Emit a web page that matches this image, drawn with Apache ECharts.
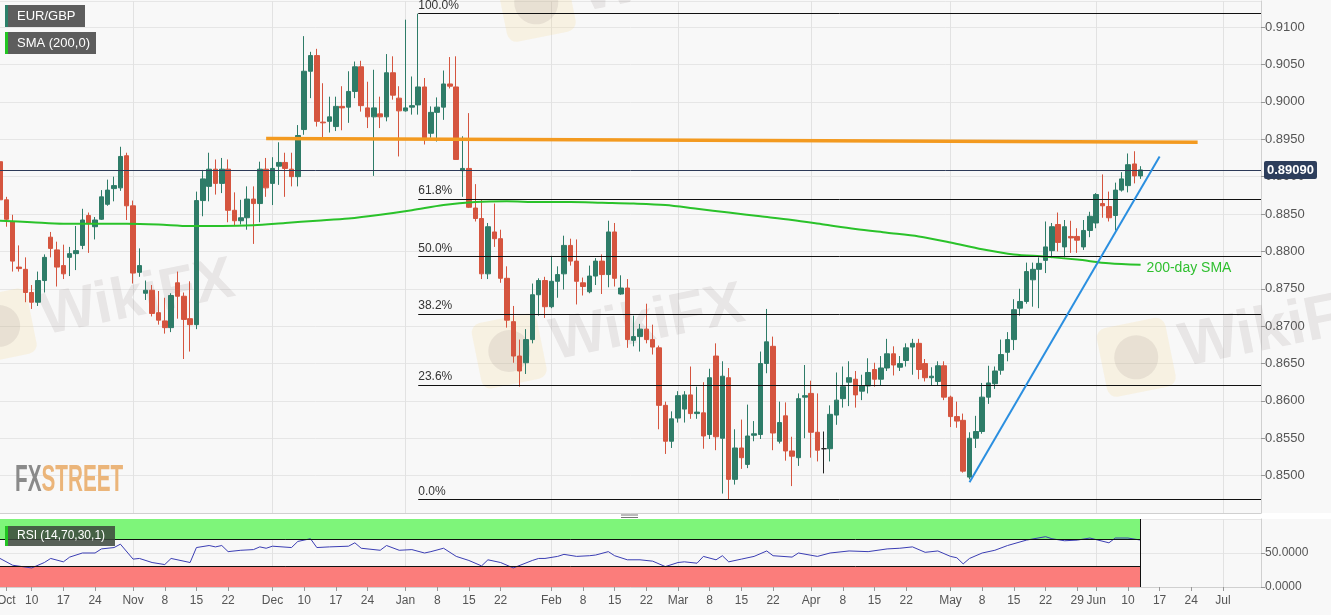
<!DOCTYPE html>
<html>
<head>
<meta charset="utf-8">
<title>EUR/GBP daily</title>
<script src="https://cdn.jsdelivr.net/npm/echarts@6.0.0/dist/echarts.min.js"></script>
<style>
  html, body { margin: 0; padding: 0; background: #f8f8f8; }
  #chart { width: 1331px; height: 615px; }
</style>
</head>
<body>
<div id="chart"></div>
<script>
// daily candles, first one is 3 Oct 2018
const open = [
  .8920,.8869,.8840,.8779,.8776,.8745,.8732,.8761,.8819,.8802,
  .8781,.8792,.8797,.8808,.8848,.8833,.8843,.8863,.8884,.8885,
  .8928,.8861,.8772,.8744,.8748,.8718,.8707,.8698,.8758,.8740,
  .8710,.8702,.8868,.8887,.8910,.8891,.8910,.8855,.8841,.8845,
  .8870,.8864,.8910,.8891,.8914,.8919,.8910,.8900,.8963,.9041,
  .9062,.8973,.8974,.8967,.8994,.8993,.9014,.9047,.8992,.8980,
  .8984,.8980,.9039,.9005,.8988,.8993,.8996,.9020,.8958,.8986,
  .8993,.9024,.9020,.8908,.8911,.8858,.8844,.8770,.8826,.8817,
  .8764,.8706,.8660,.8651,.8682,.8742,.8761,.8726,.8760,.8770,
  .8808,.8787,.8758,.8746,.8767,.8787,.8769,.8826,.8743,.8751,
  .8681,.8686,.8696,.8682,.8671,.8594,.8546,.8577,.8589,.8608,
  .8583,.8584,.8555,.8660,.8550,.8631,.8495,.8537,.8515,.8554,
  .8555,.8650,.8673,.8546,.8580,.8533,.8524,.8605,.8610,.8558,
  .8536,.8536,.8581,.8603,.8625,.8629,.8613,.8620,.8642,.8629,
  .8644,.8663,.8645,.8654,.8672,.8677,.8650,.8631,.8626,.8647,
  .8605,.8579,.8574,.8498,.8550,.8559,.8605,.8623,.8641,.8665,
  .8682,.8724,.8733,.8762,.8776,.8788,.8801,.8836,.8806,.8820,
  .8820,.8806,.8828,.8838,.8864,.8860,.8848,.8882,.8888,.8917,
  .8901
]
const close = [
  .8869,.8843,.8787,.8777,.8745,.8732,.8761,.8792,.8804,.8779,
  .8770,.8797,.8801,.8842,.8837,.8842,.8873,.8882,.8888,.8927,
  .8861,.8771,.8781,.8748,.8717,.8708,.8698,.8741,.8740,.8709,
  .8702,.8868,.8897,.8910,.8891,.8910,.8855,.8841,.8845,.8870,
  .8864,.8910,.8885,.8911,.8919,.8911,.8900,.8955,.9041,.9062,
  .8974,.8972,.8980,.8994,.8992,.9014,.9047,.8995,.8980,.8992,
  .8980,.9039,.9009,.8988,.8992,.8995,.9020,.8952,.8986,.8993,
  .9024,.9021,.8923,.8911,.8859,.8844,.8770,.8833,.8817,.8764,
  .8708,.8660,.8640,.8682,.8742,.8761,.8726,.8760,.8769,.8808,
  .8787,.8760,.8753,.8767,.8787,.8769,.8826,.8764,.8751,.8682,
  .8686,.8696,.8682,.8672,.8594,.8546,.8576,.8607,.8608,.8583,
  .8585,.8553,.8631,.8552,.8633,.8495,.8537,.8524,.8553,.8556,
  .8650,.8679,.8557,.8571,.8533,.8526,.8603,.8607,.8558,.8534,
  .8536,.8582,.8601,.8619,.8631,.8608,.8620,.8638,.8629,.8644,
  .8663,.8648,.8650,.8671,.8677,.8642,.8631,.8633,.8647,.8605,
  .8579,.8573,.8506,.8550,.8559,.8605,.8624,.8640,.8662,.8682,
  .8722,.8733,.8773,.8776,.8784,.8806,.8833,.8812,.8833,.8818,
  .8815,.8828,.8847,.8876,.8861,.8845,.8882,.8897,.8916,.8901,
  .8909
]
const low = [
  .8862,.8833,.8773,.8773,.8732,.8723,.8727,.8745,.8792,.8753,
  .8763,.8767,.8775,.8803,.8798,.8816,.8842,.8861,.8867,.8881,
  .8842,.8757,.8766,.8735,.8713,.8702,.8690,.8692,.8710,.8656,
  .8666,.8696,.8847,.8867,.8876,.8878,.8839,.8834,.8836,.8829,
  .8810,.8839,.8873,.8862,.8889,.8873,.8887,.8887,.8956,.9005,
  .8967,.8953,.8959,.8961,.8962,.8972,.9005,.8987,.8965,.8901,
  .8965,.8974,.9003,.8927,.8987,.8983,.8983,.8943,.8952,.8947,
  .8976,.9018,.8923,.8873,.8858,.8840,.8763,.8763,.8806,.8758,
  .8698,.8651,.8619,.8636,.8677,.8714,.8711,.8724,.8738,.8749,
  .8781,.8729,.8741,.8744,.8755,.8743,.8752,.8753,.8742,.8671,
  .8673,.8666,.8677,.8662,.8562,.8529,.8537,.8571,.8571,.8576,
  .8576,.8536,.8549,.8534,.8476,.8468,.8488,.8509,.8510,.8546,
  .8549,.8637,.8534,.8543,.8520,.8486,.8513,.8550,.8524,.8519,
  .8503,.8519,.8568,.8591,.8593,.8591,.8601,.8610,.8619,.8620,
  .8640,.8634,.8640,.8646,.8635,.8629,.8626,.8620,.8620,.8601,
  .8565,.8564,.8504,.8495,.8537,.8556,.8596,.8616,.8635,.8653,
  .8668,.8714,.8730,.8726,.8724,.8771,.8791,.8800,.8792,.8798,
  .8798,.8802,.8819,.8831,.8845,.8840,.8828,.8880,.8879,.8891,
  .8897
]
const high = [
  .8933,.8873,.8849,.8808,.8792,.8755,.8773,.8796,.8826,.8813,
  .8809,.8806,.8834,.8857,.8852,.8846,.8882,.8896,.8900,.8940,
  .8932,.8868,.8804,.8761,.8755,.8747,.8738,.8744,.8773,.8745,
  .8760,.8880,.8909,.8932,.8923,.8925,.8923,.8879,.8869,.8887,
  .8887,.8920,.8925,.8926,.8946,.8932,.8932,.8969,.9088,.9067,
  .9071,.9025,.9007,.9007,.9021,.9041,.9054,.9055,.9027,.9043,
  .9007,.9064,.9061,.9021,.9110,.9034,.9118,.9032,.8994,.9006,
  .9042,.9060,.9061,.8954,.8985,.8890,.8869,.8838,.8864,.8829,
  .8780,.8727,.8682,.8696,.8757,.8764,.8766,.8794,.8780,.8821,
  .8817,.8816,.8765,.8781,.8791,.8796,.8841,.8838,.8768,.8763,
  .8714,.8703,.8730,.8702,.8674,.8599,.8586,.8613,.8613,.8646,
  .8619,.8625,.8643,.8677,.8653,.8644,.8562,.8575,.8595,.8573,
  .8666,.8723,.8686,.8599,.8598,.8552,.8610,.8648,.8627,.8610,
  .8559,.8594,.8638,.8646,.8653,.8640,.8635,.8657,.8651,.8660,
  .8683,.8673,.8660,.8677,.8683,.8683,.8656,.8645,.8653,.8653,
  .8607,.8599,.8583,.8558,.8580,.8624,.8647,.8646,.8682,.8692,
  .8736,.8750,.8785,.8785,.8792,.8840,.8838,.8852,.8842,.8841,
  .8831,.8842,.8853,.8878,.8903,.8880,.8892,.8906,.8931,.8934,
  .8914
]

// 200-day SMA, read every 5th session
const smaDay = [0,5,10,15,20,25,30,35,40,45,50,55,60,65,70,75,80,85,90,95,
  100,105,110,115,120,125,130,135,140,145,150,155,160,165,170,175,180]
const smaValue = [.8841,.8839,.8837,.8837,.8837,.8836,.8834,.8834,.8835,.8838,
  .8841,.8844,.8849,.8855,.8862,.8866,.8867,.8866,.8866,.8865,
  .8864,.8862,.8857,.8852,.8847,.8842,.8836,.8830,.8825,.8820,
  .8812,.8803,.8796,.8793,.8789,.8784,.8782]

// RSI(14)
const rsiDay = [0,2,5,7,8,10,11,13,15,16,18,19,21,22,24,26,27,30,31,33,34,35,36,38,40,41,42,43,46,47,
  49,50,52,55,56,57,60,61,63,65,67,68,70,72,74,76,77,79,81,84,85,86,88,89,91,93,94,96,97,99,
  101,103,105,107,108,110,111,113,114,115,117,119,121,122,125,126,129,131,134,137,140,142,144,146,148,150,151,152,153,155,
  157,159,162,165,166,168,170,172,175,176,178,180]
const rsiValue = [42,32,28,36,42,37,44,50,50,56,58,63,41,42,36,33,42,36,58,61,59,61,52,54,55,59,57,60,58,67,
  71,58,59,60,65,57,54,61,54,55,50,52,57,45,39,31,40,36,28,39,42,42,45,48,45,46,47,52,46,40,
  40,38,30,36,37,35,45,40,46,37,41,45,53,46,44,50,45,50,53,52,56,57,59,51,53,45,43,34,42,50,
  54,61,69,74,71,68,69,72,65,72,72,69]

// fibonacci retracement of the Jan high / Mar low
const fibText = ['100.0%', '61.8%', '50.0%', '38.2%', '23.6%', '0.0%']
const fibPrice = [.9118, .8870, .8793, .8716, .8621, .8468]
const lastPrice = 0.8909
const resistance = [[42, .8951], [189, .8946]]
const trendLine = [[153, .8491], [183, .8927]]

// x axis labels (session index -> text)
const tickDay = [1,5,10,15, 21,26,31,36, 43,48,53,58, 64,69,74,79, 87,92,97,102,
  107,112,117,122, 128,133,138,143, 150,155,160,165,170, 173,178,183,188, 193]
const tickText = ['Oct','10','17','24', 'Nov','8','15','22', 'Dec','10','17','24', 'Jan','8','15','22',
  'Feb','8','15','22', 'Mar','8','15','22', 'Apr','8','15','22', 'May','8','15','22','29',
  'Jun','10','17','24', 'Jul']
const monthStart = [21, 43, 64, 87, 107, 128, 150, 173, 193]

// weekday sessions, 200 slots so the axis runs past the last candle
const days = []
const d = new Date(2018, 9, 3)
while (days.length < 200) {
  const w = d.getDay()
  if (w > 0 && w < 6) days.push(d.getFullYear() + '-' + (d.getMonth() + 1) + '-' + d.getDate())
  d.setDate(d.getDate() + 1)
}

const tickMap = {}
tickDay.forEach((t, i) => { tickMap[t] = tickText[i] })

const candles = open.map((o, i) => [o, close[i], low[i], high[i]])

const UP = '#2e7c68'
const DOWN = '#d5553f'
const FONT = '"Liberation Sans", Arial, sans-serif'
const LAST = days.length - 1

function wikiMark(x, y, s) {
  return {
    type: 'group', x: x, y: y, rotation: 0.2, silent: true,
    children: [
      { type: 'rect', z: 1, shape: { x: 0, y: 0, width: 70 * s, height: 70 * s, r: 10 * s },
        style: { fill: 'rgba(245,215,140,0.2)' } },
      { type: 'circle', z: 1, shape: { cx: 35 * s, cy: 35 * s, r: 22 * s },
        style: { fill: 'rgba(120,110,110,0.12)' } },
      { type: 'text', z: 1, x: 80 * s, y: 5 * s,
        style: { text: 'WikiFX', font: 'bold ' + Math.round(62 * s) + 'px ' + FONT, fill: 'rgba(120,110,110,0.13)' } }
    ]
  }
}

function tag(x, y, w, h, accent, text, size, fill) {
  return {
    type: 'group', x: x, y: y, children: [
      { type: 'rect', z: 100, shape: { x: 0, y: 0, width: w, height: h }, style: { fill: fill } },
      { type: 'rect', z: 101, shape: { x: 0, y: 0, width: 3, height: h }, style: { fill: accent } },
      { type: 'text', z: 102, x: 12, y: h / 2,
        style: { text: text, fill: '#fff', font: size + 'px ' + FONT, verticalAlign: 'middle' } }
    ]
  }
}

const chart = echarts.init(document.getElementById('chart'))
chart.setOption({
  animation: false,
  backgroundColor: '#f8f8f8',
  textStyle: { fontFamily: FONT },
  grid: [
    { left: 0, right: 70, top: 1, height: 512, outerBoundsMode: 'none', containLabel: false },
    { left: 0, right: 70, top: 519, height: 68, outerBoundsMode: 'none', containLabel: false }
  ],
  xAxis: [{
    type: 'category', gridIndex: 0, data: days, boundaryGap: false,
    axisLine: { show: true, lineStyle: { color: '#d0d0d0' } },
    axisTick: { show: false },
    axisLabel: { show: false },
    splitLine: { show: true, interval: (i) => monthStart.includes(i), lineStyle: { color: '#e2e2e2' } }
  }, {
    type: 'category', gridIndex: 1, data: days, boundaryGap: false,
    axisLine: { show: true, lineStyle: { color: '#d0d0d0' } },
    axisTick: { show: true, interval: (i) => tickMap[i] !== undefined, length: 4, lineStyle: { color: '#999' } },
    axisLabel: {
      show: true, interval: (i) => tickMap[i] !== undefined,
      formatter: (v, i) => tickMap[i] || '', color: '#555', fontSize: 12, margin: 8
    },
    splitLine: { show: true, interval: (i) => monthStart.includes(i), lineStyle: { color: '#e2e2e2' } }
  }],
  yAxis: [{
    type: 'value', gridIndex: 0, position: 'right', scale: true,
    min: 0.845, max: 0.9135, interval: 0.005,
    axisLine: { show: true, lineStyle: { color: '#d0d0d0' } },
    axisTick: { show: true, length: 4, lineStyle: { color: '#999' } },
    axisLabel: { color: '#555', fontSize: 13, margin: 4, showMinLabel: false, showMaxLabel: false,
      formatter: (v) => v.toFixed(4) },
    splitLine: { lineStyle: { color: '#e6e6e6' } }
  }, {
    type: 'value', gridIndex: 1, position: 'right', min: 0, max: 100, interval: 50,
    axisLine: { show: true, lineStyle: { color: '#d0d0d0' } },
    axisTick: { show: true, length: 4, lineStyle: { color: '#999' } },
    axisLabel: { color: '#555', fontSize: 12, margin: 4, showMaxLabel: false,
      formatter: (v) => v.toFixed(4) },
    splitLine: { lineStyle: { color: '#e6e6e6' } }
  }],
  series: [{
    type: 'candlestick', name: 'EUR/GBP', xAxisIndex: 0, yAxisIndex: 0,
    data: candles, barWidth: 5,
    itemStyle: { color: UP, color0: DOWN, borderColor: UP, borderColor0: DOWN, borderColorDoji: '#222', borderWidth: 1 },
    markLine: {
      silent: true, symbol: ['none', 'none'], animation: false,
      label: { show: false },
      data: [
        [{
          coord: [0, lastPrice],
          lineStyle: { color: '#2d3a58', width: 1, type: 'solid' },
          label: {
            show: true, position: 'end', formatter: lastPrice.toFixed(5), distance: 3,
            color: '#fff', fontWeight: 'bold', fontSize: 13, backgroundColor: '#2d3e5c',
            padding: [3, 3, 2, 3], borderRadius: 2
          }
        }, { coord: [LAST, lastPrice] }],
        ...fibPrice.map((p, i) => [{
          coord: [66, p],
          lineStyle: { color: '#111', width: 1, type: 'solid' },
          label: { show: true, formatter: fibText[i], position: 'insideStartTop',
            color: '#333', fontSize: 12, distance: [0, 2] }
        }, { coord: [LAST, p] }]),
        [{ coord: resistance[0], lineStyle: { color: '#f39a20', width: 3.5, type: 'solid' } },
          { coord: resistance[1] }],
        [{ coord: trendLine[0], lineStyle: { color: '#2b8fe0', width: 2, type: 'solid' } },
          { coord: trendLine[1] }]
      ]
    }
  }, {
    type: 'line', name: 'SMA (200,0)', xAxisIndex: 0, yAxisIndex: 0,
    data: smaDay.map((t, i) => [t, smaValue[i]]),
    smooth: 0.3, showSymbol: false, symbol: 'none',
    lineStyle: { color: '#2ac22a', width: 2 },
    endLabel: { show: true, formatter: '200-day SMA', color: '#2fbf2f', fontSize: 14, distance: 6, offset: [0, 3] },
    z: 3
  }, {
    type: 'line', name: 'RSI', xAxisIndex: 1, yAxisIndex: 1,
    data: rsiDay.map((t, i) => [t, rsiValue[i]]),
    showSymbol: false, symbol: 'none',
    lineStyle: { color: '#3a3db3', width: 1 },
    z: 4,
    markArea: {
      silent: true,
      data: [
        [{ coord: [0, 70], itemStyle: { color: '#7ef57a' } }, { coord: [180, 100] }],
        [{ coord: [0, 0], itemStyle: { color: '#fb7d7b' } }, { coord: [180, 30] }]
      ]
    },
    markLine: {
      silent: true, symbol: ['none', 'none'], label: { show: false },
      lineStyle: { color: '#111', width: 1, type: 'solid' },
      data: [
        [{ coord: [0, 70] }, { coord: [180, 70] }],
        [{ coord: [0, 30] }, { coord: [180, 30] }],
        [{ coord: [180, 0] }, { coord: [180, 100] }]
      ]
    }
  }],
  graphic: [
    { type: 'rect', left: 0, top: 513, shape: { width: 1331, height: 6 }, style: { fill: '#ffffff' }, silent: true },
    { type: 'line', shape: { x1: 621, y1: 515, x2: 638, y2: 515 }, style: { stroke: '#777', lineWidth: 1 }, silent: true },
    { type: 'line', shape: { x1: 621, y1: 517.5, x2: 638, y2: 517.5 }, style: { stroke: '#777', lineWidth: 1 }, silent: true },
    wikiMark(495, -25, 1),
    wikiMark(470, 325, 0.95),
    wikiMark(-40, 300, 0.95),
    wikiMark(1095, 330, 1),
    { type: 'text', x: 15, y: 462, scaleX: 0.56, z: 5, silent: true,
      style: {
        text: '{a|FX}{b|STREET}',
        rich: {
          a: { font: 'bold 37px ' + FONT, fill: '#8a8a8a' },
          b: { font: 'bold 37px ' + FONT, fill: '#ebb57a' }
        }
      } },
    tag(5, 5, 80, 22, '#2b7f69', 'EUR/GBP', 13, 'rgba(75,75,75,0.9)'),
    tag(5, 32, 91, 22, '#22c522', 'SMA (200,0)', 13, 'rgba(75,75,75,0.9)'),
    tag(5, 526, 110, 20, '#22c522', 'RSI (14,70,30,1)', 12, 'rgba(60,70,60,0.85)')
  ]
})
</script>
</body>
</html>
